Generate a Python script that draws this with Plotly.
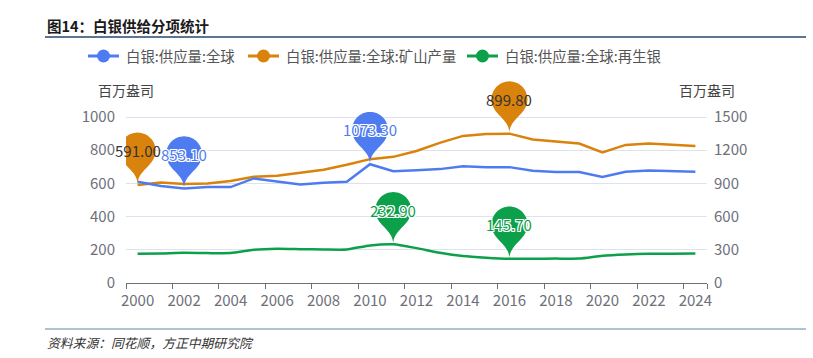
import math
import plotly.graph_objects as go

# ---------------- data ----------------
years = list(range(2000, 2025))
total_supply = [914, 876, 853.1, 867, 867, 945, 918, 891, 906, 915, 1073.3, 1010, 1018,
                1029, 1056, 1047, 1047, 1014, 1002, 1002, 957, 1005, 1017, 1011, 1005]
mine_supply = [591.0, 606, 596, 600, 614, 640, 646, 666, 682, 712, 746, 760, 795,
               844, 886, 897, 899.8, 864, 852, 840, 786, 832, 840, 834, 826]
recycle_supply = [176, 178, 182, 180, 180, 200, 206, 204, 202, 202, 226, 232.9, 210,
                  182, 162, 152, 145.7, 146.2, 147, 147, 164, 172, 176, 176, 178]

series_names = ["白银:供应量:全球", "白银:供应量:全球:矿山产量", "白银:供应量:全球:再生银"]
series_colors = ["#4e7cf0", "#d9820c", "#0ca04a"]
label_colors = [None, "#333333", None]
series_axes = ["y2", "y", "y"]
series_values = [total_supply, mine_supply, recycle_supply]
series_shapes = ["linear", "linear", "spline"]

title_text = "图14：白银供给分项统计"
source_text = "资料来源：同花顺，方正中期研究院"
axis_name = "百万盎司"
left_ticks = [0, 200, 400, 600, 800, 1000]
right_ticks = [0, 300, 600, 900, 1200, 1500]
year_labels = [str(y) for y in range(2000, 2025, 2)]

# ---------------- layout constants ----------------
W, H = 813, 358
ML, MR, MB = 126, 106, 75
AXIS_H = 166          # pixel height of the 0..1000 (left) / 0..1500 (right) span
PH = 213              # plot area extended upward so the pins are not clipped
MT = H - MB - PH
PW = W - ML - MR
EXT = PH / AXIS_H
FONT = "Noto Sans CJK SC"
LEGEND_ICON_X = [88, 248, 467]
LEGEND_ICON_W = 31
LEGEND_Y = 56


def px_x(px):
    return (px - ML) / PW


def px_y(py):
    return (H - MB - py) / PH


def pin_path(size=60, n=40):
    w = size / 5 * 3
    h = size
    r = w / 2
    dy = r * r / (h - r)
    cy = h - r - dy
    a = math.asin(dy / r)
    dx = math.cos(a) * r
    tx, ty = math.sin(a), math.cos(a)
    cp1, cp2 = r * 0.6, r * 0.7
    pts = []
    for k in range(n + 1):
        t = (math.pi - a) + (math.pi + 2 * a) * k / n
        pts.append((r * math.cos(t), cy - r * math.sin(t)))
    d = "M%.2f,%.2f" % pts[0]
    for p in pts[1:]:
        d += " L%.2f,%.2f" % p
    d += " C%.2f,%.2f %.2f,%.2f 0,0" % (dx - tx * cp1, cy - dy - ty * cp1, 0, cp2)
    d += " C%.2f,%.2f %.2f,%.2f %.2f,%.2f Z" % (0, cp2, -dx + tx * cp1, cy - dy - ty * cp1, -dx, cy - dy)
    return d, cy


PIN, PIN_CY = pin_path(60)
outline = ", ".join("#ffffff %dpx %dpx 0" % (a, b) for a in (-1, 0, 1) for b in (-1, 0, 1) if a or b)

fig = go.Figure()

# data lines
for name, vals, col, ax, shp in zip(series_names, series_values, series_colors, series_axes, series_shapes):
    fig.add_trace(go.Scatter(x=years, y=vals, name=name, mode="lines", yaxis=ax,
                             line=dict(color=col, width=2.5, shape=shp, smoothing=0.6),
                             showlegend=False, hoverinfo="skip"))

shapes = []
annotations = []
# max / min pins
for vals, col, lcol, ax in zip(series_values, series_colors, label_colors, series_axes):
    for fn in (max, min):
        v = fn(vals)
        i = vals.index(v)
        shapes.append(dict(type="path", xref="x", yref=ax, xsizemode="pixel", ysizemode="pixel",
                           xanchor=years[i], yanchor=v, path=PIN, fillcolor=col,
                           line=dict(width=0), layer="above"))
        font = dict(family=FONT, size=15, color=lcol if lcol else col)
        if not lcol:
            font["shadow"] = outline
        annotations.append(dict(x=years[i], y=v, xref="x", yref=ax, text="%.2f" % v,
                                showarrow=False, yshift=PIN_CY, font=font))

# legend (line + circle icon and text)
for name, col, ix in zip(series_names, series_colors, LEGEND_ICON_X):
    shapes.append(dict(type="line", xref="paper", yref="paper", x0=px_x(ix), x1=px_x(ix + LEGEND_ICON_W),
                       y0=px_y(LEGEND_Y), y1=px_y(LEGEND_Y), line=dict(color=col, width=3)))
    shapes.append(dict(type="circle", xref="paper", yref="paper", xsizemode="pixel", ysizemode="pixel",
                       xanchor=px_x(ix + LEGEND_ICON_W / 2), yanchor=px_y(LEGEND_Y),
                       x0=-6.5, x1=6.5, y0=-6.5, y1=6.5, fillcolor=col, line=dict(width=0)))
    annotations.append(dict(x=px_x(ix + LEGEND_ICON_W + 5), y=px_y(LEGEND_Y), xref="paper", yref="paper",
                            text=name, showarrow=False, xanchor="left", yanchor="middle",
                            font=dict(family=FONT, size=14.4, color="#555555")))

# title and rules
annotations.append(dict(x=px_x(45), y=px_y(26), xref="paper", yref="paper", text="<b>" + title_text + "</b>",
                        showarrow=False, xanchor="left", yanchor="middle",
                        font=dict(family=FONT, size=14.5, color="#1a1a1a")))
shapes.append(dict(type="line", xref="paper", yref="paper", x0=px_x(45), x1=px_x(806),
                   y0=px_y(37), y1=px_y(37), line=dict(color="#23496b", width=1.5)))
shapes.append(dict(type="line", xref="paper", yref="paper", x0=px_x(45), x1=px_x(806),
                   y0=px_y(329), y1=px_y(329), line=dict(color="#5b88aa", width=1.2)))
annotations.append(dict(x=px_x(45), y=px_y(342), xref="paper", yref="paper", text="<i>" + source_text + "</i>",
                        showarrow=False, xanchor="left", yanchor="middle",
                        font=dict(family=FONT, size=12.8, color="#333333")))
# axis names
for xpx in (126, 707):
    annotations.append(dict(x=px_x(xpx), y=px_y(90), xref="paper", yref="paper", text=axis_name,
                            showarrow=False, xanchor="center", yanchor="middle",
                            font=dict(family=FONT, size=14, color="#444444")))

boundaries = [y - 0.5 for y in range(2000, 2025, 2)] + [2024.5]

fig.update_layout(
    width=W, height=H, margin=dict(l=ML, r=MR, t=MT, b=MB),
    paper_bgcolor="white", plot_bgcolor="white",
    font=dict(family=FONT, color="#6e7079"),
    shapes=shapes, annotations=annotations,
    showlegend=False,
    xaxis=dict(range=[1999.5, 2024.5], tickmode="array", tickvals=list(range(2000, 2025, 2)),
               ticktext=year_labels, ticks="", showgrid=False, zeroline=False,
               showline=True, linecolor="#6e7079", linewidth=1.3,
               tickfont=dict(family=FONT, size=15, color="#6e7079"), ticklabelstandoff=4,
               minor=dict(tickmode="array", tickvals=boundaries, ticks="outside", ticklen=5,
                          tickcolor="#6e7079", tickwidth=1.3, showgrid=False)),
    yaxis=dict(range=[0, 1000 * EXT], tickmode="array", tickvals=left_ticks, ticks="",
               showgrid=True, gridcolor="#dde2ef", gridwidth=1, zeroline=False, showline=False,
               tickfont=dict(family=FONT, size=15, color="#6e7079"), ticklabelstandoff=10),
    yaxis2=dict(range=[0, 1500 * EXT], tickmode="array", tickvals=right_ticks, ticks="",
                overlaying="y", side="right", showgrid=False, zeroline=False, showline=False,
                tickfont=dict(family=FONT, size=15, color="#6e7079"), ticklabelstandoff=6),
)

fig.write_html("out.html", config={"displayModeBar": False},
               post_script="document.body.style.margin='0';document.body.style.overflow='hidden';")
